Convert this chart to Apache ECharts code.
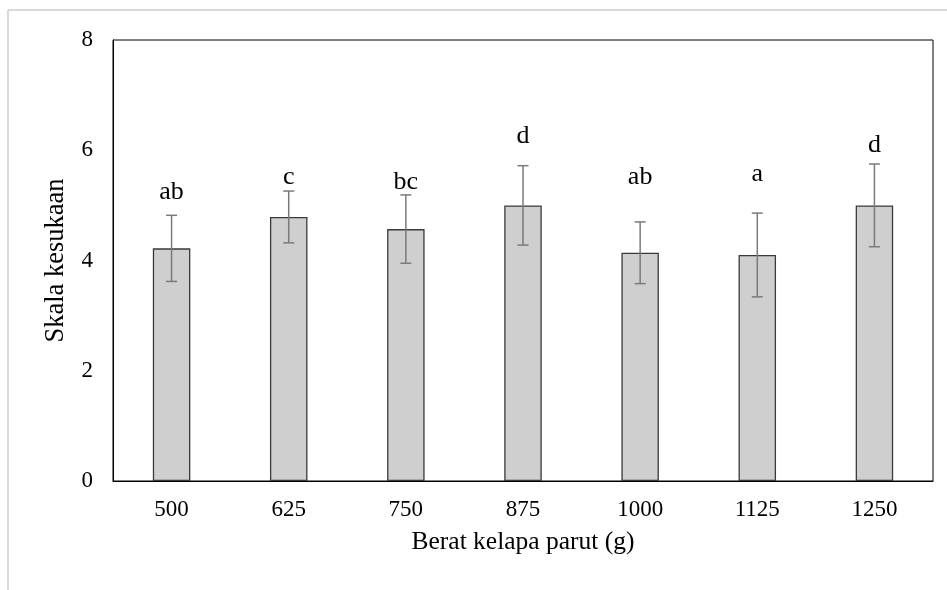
<!DOCTYPE html>
<html>
<head>
<meta charset="utf-8">
<script src="https://cdn.jsdelivr.net/npm/echarts@6/dist/echarts.min.js"></script>
<style>html,body{margin:0;padding:0;background:#fff}#c{width:947px;height:590px}</style>
</head>
<body>
<div id="c"></div>
<script>
var categories = ['500', '625', '750', '875', '1000', '1125', '1250'];
var means = [4.22, 4.79, 4.57, 5.00, 4.14, 4.10, 5.00];
var errors = [0.60, 0.47, 0.62, 0.72, 0.56, 0.76, 0.75];
var letters = ['ab', 'c', 'bc', 'd', 'ab', 'a', 'd'];
var letterHeights = [5.10, 5.37, 5.28, 6.12, 5.37, 5.43, 5.95];
var yTicks = [0, 2, 4, 6, 8];

var FONT = '"Liberation Serif", "Times New Roman", serif';
var chart = echarts.init(document.getElementById('c'), null, {renderer: 'canvas'});

var errData = categories.map(function (c, i) { return [i, means[i] - errors[i], means[i] + errors[i]]; });
var letterData = categories.map(function (c, i) { return [i, letterHeights[i]]; });

chart.setOption({
  animation: false,
  backgroundColor: '#fff',
  graphic: [
    {type: 'line', shape: {x1: 8, y1: 10, x2: 947, y2: 10}, style: {stroke: '#d9d9d9', lineWidth: 2}},
    {type: 'line', shape: {x1: 8, y1: 10, x2: 8, y2: 590}, style: {stroke: '#d9d9d9', lineWidth: 2}}
  ],
  grid: {left: 113, right: 14, top: 40, bottom: 109, show: true, borderColor: '#000', borderWidth: 1, backgroundColor: 'transparent'},
  xAxis: {
    type: 'category',
    data: categories,
    axisLine: {lineStyle: {color: '#000', width: 1}},
    axisTick: {show: false},
    axisLabel: {color: '#000', fontFamily: FONT, fontSize: 23, margin: 17},
    name: 'Berat kelapa parut (g)',
    nameLocation: 'middle',
    nameGap: 48,
    nameTextStyle: {color: '#000', fontFamily: FONT, fontSize: 25.5}
  },
  yAxis: {
    type: 'value',
    min: 0, max: 8, interval: 2,
    axisLine: {show: true, lineStyle: {color: '#000', width: 1}},
    axisTick: {show: false},
    splitLine: {show: false},
    axisLabel: {color: '#000', fontFamily: FONT, fontSize: 23, margin: 20,
      formatter: function (v) { return yTicks.indexOf(v) >= 0 ? String(v) : ''; }},
    name: 'Skala kesukaan',
    nameLocation: 'middle',
    nameGap: 43,
    nameTextStyle: {color: '#000', fontFamily: FONT, fontSize: 26.5}
  },
  series: [
    {
      type: 'bar',
      data: means,
      barWidth: '32%',
      itemStyle: {color: '#d0cfcf', borderColor: '#3a3a3a', borderWidth: 1.3},
      z: 2
    },
    {
      type: 'custom',
      data: errData,
      z: 3,
      renderItem: function (params, api) {
        var x = api.value(0);
        var lo = api.coord([x, api.value(1)]);
        var hi = api.coord([x, api.value(2)]);
        var cap = 5.5;
        var st = {stroke: '#7a7a7a', lineWidth: 1.5};
        return {type: 'group', children: [
          {type: 'line', shape: {x1: lo[0], y1: lo[1], x2: hi[0], y2: hi[1]}, style: st},
          {type: 'line', shape: {x1: hi[0] - cap, y1: hi[1], x2: hi[0] + cap, y2: hi[1]}, style: st},
          {type: 'line', shape: {x1: lo[0] - cap, y1: lo[1], x2: lo[0] + cap, y2: lo[1]}, style: st}
        ]};
      }
    },
    {
      type: 'custom',
      data: letterData,
      z: 4,
      renderItem: function (params, api) {
        var p = api.coord([api.value(0), api.value(1)]);
        return {type: 'text', x: p[0], y: p[1] + 5.5, style: {
          text: letters[params.dataIndex], fill: '#000', font: '26px ' + FONT,
          textAlign: 'center', textVerticalAlign: 'bottom'
        }};
      }
    }
  ]
});
</script>
</body>
</html>
